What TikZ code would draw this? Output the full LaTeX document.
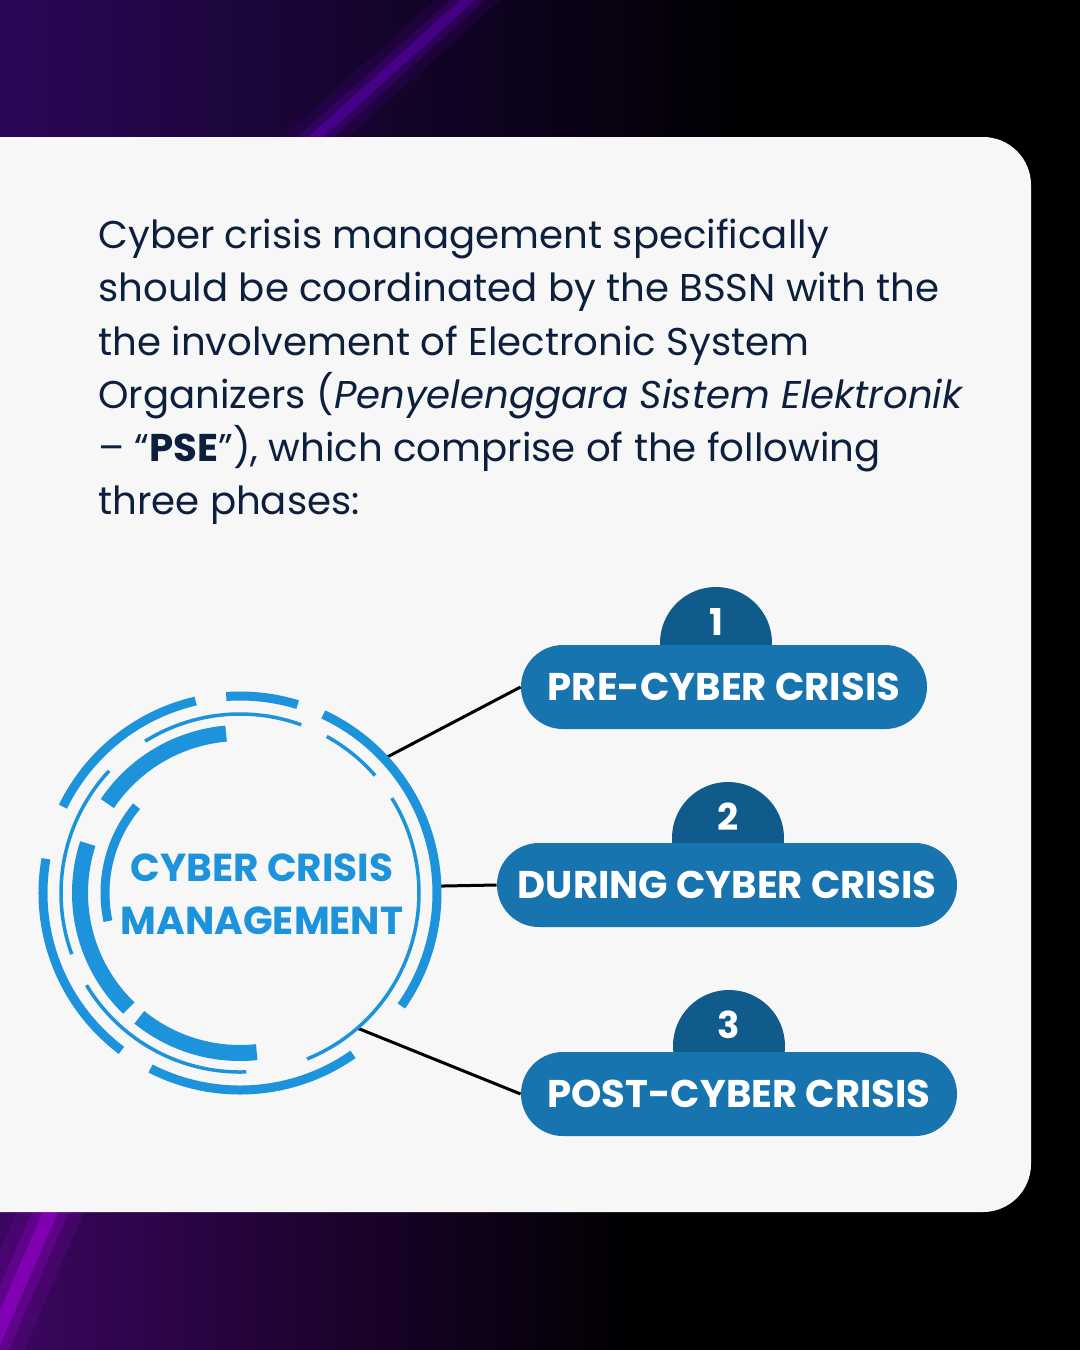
\documentclass[tikz,border=0pt]{standalone}
\usepackage{fontspec}
\setmainfont{Poppins}
\definecolor{navy}{HTML}{0C1F3D}
\definecolor{ringblue}{HTML}{1C93DB}
\definecolor{pillblue}{HTML}{1874AE}
\definecolor{tabblue}{HTML}{0F5B8B}
\definecolor{card}{HTML}{F7F7F7}
\definecolor{bgpurple}{HTML}{2A0858}
\definecolor{streak}{HTML}{6A00C8}
\definecolor{glow}{HTML}{B400F0}
\begin{document}
\begin{tikzpicture}[x=0.5pt, y=-0.5pt,
		body/.style={anchor=base west, inner sep=0pt, text=navy,
			font=\fontsize{19.35}{24}\selectfont},
		hub label/.style={align=center, text=ringblue, inner sep=0pt,
			font=\fontsize{19.5}{26.5}\selectfont\bfseries},
		phase/.style={fill=pillblue, text=white, rounded corners=21pt,
			minimum height=42pt, inner sep=0pt, text depth=0pt,
			font=\fontsize{19.3}{19.3}\selectfont\bfseries},
		tab/.style={circle, fill=tabblue, text=white, minimum size=56pt,
			inner sep=0pt, text height=13pt, text depth=21pt,
			font=\fontsize{18.5}{18.5}\selectfont\bfseries},
		link/.style={black, line width=1.5pt},
		outer ring/.style={ringblue, line width=4.5pt},
		thin ring/.style={ringblue, line width=1.75pt},
		thick ring/.style={ringblue, line width=8pt},
		mid ring/.style={ringblue, line width=4.5pt}]
	\useasboundingbox (0,0) rectangle (1080,1350);
	\clip (0,0) rectangle (1080,1350);
	% dark backdrop
	\fill[black] (0,0) rectangle (1080,1350);
	\shade[left color=bgpurple, right color=black] (0,0) rectangle (760,137);
	\shade[left color=bgpurple!80!violet, right color=black] (0,1212) rectangle (640,1350);
	\foreach \w/\o in {22/0.12, 12/0.22, 5/0.4}
		{
			\draw[streak, line width=\w pt, opacity=\o] (490,-20) -- (290,160);
			\draw[glow, line width=1.4*\w pt, opacity=\o] (60,1190) -- (-14,1360);
		}
	% card
	\fill[card, rounded corners=24pt] (-60,137) rectangle (1031,1212);
	% intro text
	\node[body] (l1) at (98,248) {Cyber crisis management specifically};
	\node[body] (l2) at (98,301) {should be coordinated by the BSSN with the};
	\node[body] (l3) at (98,355) {the involvement of Electronic System};
	\node[body] (l4) at (98,408) {Organizers (\textit{Penyelenggara Sistem Elektronik}};
	\node[body] (l5) at (98,461) {– “\textbf{PSE}”), which comprise of the following};
	\node[body] (l6) at (98,514) {three phases:};
	% hub
	\node[circle, minimum size=197pt, inner sep=0pt, outer sep=0pt] (hub) at (240,893) {};
	\node[circle, minimum size=179pt, inner sep=0pt, outer sep=0pt] (hubin) at (240,893) {};
	% phases
	\node[tab] (n1) at (716,643) {1};
	\node[tab] (n2) at (728,838) {2};
	\node[tab] (n3) at (729,1046) {3};
	\node[phase, minimum width=203pt] (p1) at (724,687) {PRE-CYBER CRISIS};
	\node[phase, minimum width=230pt] (p2) at (727,885) {DURING CYBER CRISIS};
	\node[phase, minimum width=218pt] (p3) at (739,1094) {POST-CYBER CRISIS};
	\draw[link] (hub.43) -- (p1.west);
	\draw[link] (hub.2) -- (p2.west);
	\draw[link] (hubin.-49) -- (p3.west);
	% broken rings
	\foreach \a/\b in {127/190, 206/257, 266/287, 295/395, 55/117}
		\draw[outer ring] (hub.center) ++(\a:197) arc[start angle=\a, end angle=\b, radius=197];
	\foreach \a/\b in {88/149, 160/223, 238/290, 299/319, 328/428}
		\draw[thin ring] (hub.center) ++(\a:179) arc[start angle=\a, end angle=\b, radius=179];
	\foreach \a/\b in {84/129, 134/198, 214/265}
		\draw[thick ring] (hub.center) ++(\a:160) arc[start angle=\a, end angle=\b, radius=160];
	\draw[mid ring] (hub.center) ++(168:135) arc[start angle=168, end angle=220, radius=135];
	\node[hub label] (lbl) at (262,894) {CYBER CRISIS\\MANAGEMENT};
\end{tikzpicture}
\end{document}
